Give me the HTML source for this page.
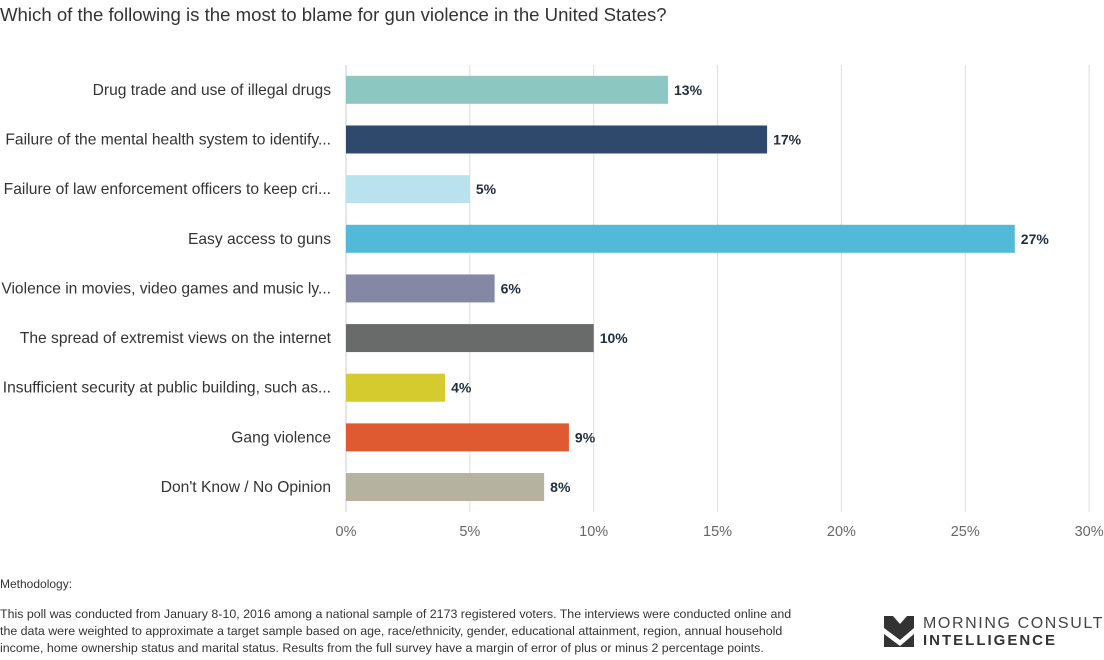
<!DOCTYPE html>
<html><head><meta charset="utf-8"><style>
body{margin:0;width:1104px;height:660px;background:#fff;font-family:"Liberation Sans",sans-serif;position:relative;overflow:hidden}
.t{position:absolute;left:0;top:4px;font-size:18.6px;color:#333}
.m{position:absolute;left:0;font-size:12px;color:#333}
</style></head><body>
<div class="t">Which of the following is the most to blame for gun violence in the United States?</div>
<svg id="c" width="1104" height="560" style="position:absolute;left:0;top:0"></svg>
<div class="m" style="top:577px">Methodology:</div>
<div class="m" style="top:606px;width:806px;line-height:17px;font-size:12.4px">This poll was conducted from January 8-10, 2016 among a national sample of 2173 registered voters. The interviews were conducted online and the data were weighted to approximate a target sample based on age, race/ethnicity, gender, educational attainment, region, annual household income, home ownership status and marital status. Results from the full survey have a margin of error of plus or minus 2 percentage points.</div>
<div style="position:absolute;left:884px;top:616px">
<svg width="32" height="32" style="position:absolute;left:0;top:0"><polygon points="0,0 9,0 16,8 23,0 30,0 30,12 16,24 0,12" fill="#333"/><polygon points="0,18 16,30 30,18 30,31 0,31" fill="#333"/></svg>
<div style="position:absolute;left:39px;top:-1px;font-size:16px;letter-spacing:1.6px;color:#444;white-space:nowrap">MORNING CONSULT</div>
<div style="position:absolute;left:39px;top:16px;font-size:15px;font-weight:bold;letter-spacing:2px;color:#333;white-space:nowrap">INTELLIGENCE</div>
</div>
<script>
const categories=["Drug trade and use of illegal drugs","Failure of the mental health system to identify...","Failure of law enforcement officers to keep cri...","Easy access to guns","Violence in movies, video games and music ly...","The spread of extremist views on the internet","Insufficient security at public building, such as...","Gang violence","Don't Know / No Opinion"];
const values=[13,17,5,27,6,10,4,9,8];
const colors=["#8dc7c2","#2e496c","#bae2ee","#52b9d8","#8588a4","#696b6b","#d6cb2e","#e05a31","#b5b3a0"];
const ticks=[0,5,10,15,20,25,30];
const tickLabels=["0%","5%","10%","15%","20%","25%","30%"];
const svg=document.getElementById('c');const NS='http://www.w3.org/2000/svg';
const x=v=>346+v*24.77;const top0=65,band=49.65;const y=i=>top0+i*band;
function mk(t,a,txt){const e=document.createElementNS(NS,t);for(const k in a)e.setAttribute(k,a[k]);if(txt!==undefined)e.textContent=txt;svg.appendChild(e);return e;}
ticks.forEach((t,i)=>{
const g=mk('line',{x1:x(t),x2:x(t),y1:top0,y2:top0+band*9,stroke:t===0?'#ccc':'#ddd','stroke-width':1});


const l=mk('text',{x:x(t),y:536,'text-anchor':'middle','font-size':14.5,fill:'#666'},tickLabels[i]);


});
categories.forEach((c,i)=>{
const cy=y(i)+band/2;
const b=mk('rect',{x:x(0),y:cy-14,width:x(values[i])-x(0),height:28,fill:colors[i]});


const l=mk('text',{x:331,y:cy+5,'text-anchor':'end','font-size':15.6,fill:'#333'},c);


const v=mk('text',{x:x(values[i])+6,y:cy+5,'font-size':14,'font-weight':'bold',fill:'#1f2d3d'},values[i]+'%');


});
</script>
</body></html>
